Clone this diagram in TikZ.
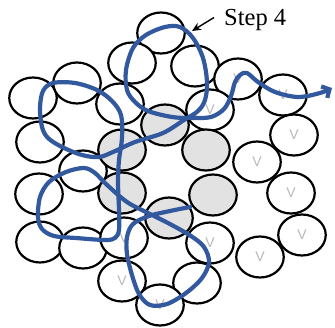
\documentclass[tikz,border=0pt]{standalone}
\usepackage{fontspec}
\setmainfont{Liberation Serif}
\newfontfamily\vfont{Liberation Sans}
\usetikzlibrary{shapes.geometric,arrows.meta}
\definecolor{pathblue}{RGB}{50,88,158}
\definecolor{cellgray}{RGB}{226,226,226}
\definecolor{vgray}{RGB}{185,185,185}
\tikzset{
  cell/.style={ellipse, draw=black, line width=2.2pt, minimum width=47.5pt, minimum height=41pt, inner sep=0pt, outer sep=0pt, fill=white},
  grey/.style={cell, fill=cellgray},
  vcell/.style={cell, font=\vfont\fontsize{14}{14}\selectfont, text=vgray, text depth=-3pt},
  route/.style={draw=pathblue, line width=4.2pt, line cap=round, line join=round},
  callout/.style={draw=black, line width=1.4pt, -{Stealth[length=9pt,width=8pt]}}
}
\begin{document}
\begin{tikzpicture}[x=1pt,y=-1pt]
\useasboundingbox (0,0) rectangle (335,327);
% plain cells
\node[cell] (c1) at (161,33) {};
\node[cell] (c2) at (132,63) {};
\node[cell] (c3) at (195,66) {};
\node[cell] (c4) at (33,98) {};
\node[cell] (c5) at (77,83) {};
\node[cell] (c6) at (120,104) {};
\node[cell] (c7) at (40,142) {};
\node[cell] (c8) at (83,171) {};
\node[cell] (c9) at (39,194) {};
\node[cell] (c10) at (40,242) {};
\node[cell] (c11) at (83,248) {};
\node[cell] (c12) at (197,283) {};
% V cells
\node[vcell] (v1) at (238,79) {V};
\node[vcell] (v2) at (283,95) {V};
\node[vcell] (v3) at (294,135) {V};
\node[vcell] (v4) at (210,110) {V};
\node[vcell] (v5) at (257,162) {V};
\node[vcell] (v6) at (291,193) {V};
\node[vcell] (v7) at (302,235) {V};
\node[vcell] (v8) at (260,257) {V};
\node[vcell] (v9) at (210,243) {V};
\node[vcell] (v10) at (124,238) {V};
\node[vcell] (v11) at (122,281) {V};
\node[vcell] (v12) at (160,305) {V};
% grey cells
\node[grey] (g1) at (165,125) {};
\node[grey] (g2) at (122,150) {};
\node[grey] (g3) at (206,150) {};
\node[grey] (g4) at (122,193) {};
\node[grey] (g5) at (213,195) {};
\node[grey] (g6) at (169,218) {};
% route
\coordinate (start) at (190,207);
\coordinate (finish) at (335,87);
\draw[route, -{Straight Barb[length=6pt,width=13pt]}] plot[smooth, tension=0.55] coordinates {
(190,207) (170,211) (149,216) (133,224) (127,237) (127,254) (132,275) (139,294)
(150,305) (167,304) (186,293) (202,278) (209,262) (204,247) (191,236) (168,223)
(148,213) (127,202) (106,184) (95,173) (84,168) (66,172) (49,182) (40,197)
(38,217) (42,229) (54,236) (76,238) (105,240) (115,238) (119,230) (119,210)
(118,182) (119,160) (122,138) (121,115) (112,101) (97,90) (75,83) (53,83)
(43,91) (40,108) (42,127) (48,138) (62,147) (82,155) (99,157) (113,152)
(135,142) (163,133) (184,120) (198,111) (205,100) (207,82) (203,58) (193,38)
(180,27) (165,27) (146,35) (133,48) (126,70) (127,90) (135,102) (148,111)
(172,117) (192,118) (211,117) (224,109) (231,96) (235,82) (240,75) (247,73)
(258,82) (275,92) (298,97) (320,93) (332,88)};
% label
\node[anchor=base west, inner sep=0pt, font=\fontsize{24.5}{26}\selectfont] (step) at (224,25) {Step 4};
\coordinate (tip) at (192,31);
\draw[callout] (step.west) ++(-10,-2) -- (tip);
\end{tikzpicture}
\end{document}
